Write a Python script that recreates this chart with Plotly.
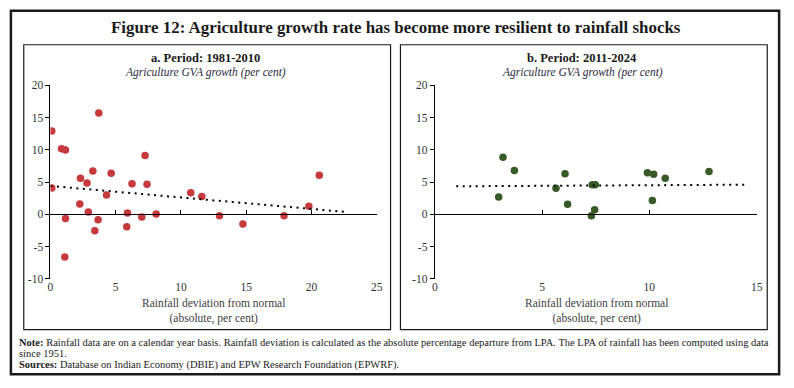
import plotly.graph_objects as go

# ---------------- data ----------------
# Panel a: 1981-2010
rain_a = [0.1, 3.7, 0.85, 1.15, 7.25, 3.25, 4.65, 2.3, 2.8, 6.25, 7.4, 20.6, 0.1, 2.25, 4.3,
          2.9, 1.15, 3.65, 3.4, 1.1, 5.9, 5.85, 7.0, 8.1, 10.75, 11.6, 12.95, 14.75, 17.9, 19.8]
gva_a = [12.9, 15.7, 10.15, 9.95, 9.1, 6.7, 6.35, 5.6, 4.85, 4.75, 4.65, 6.05, 4.1, 1.6, 3.0,
         0.35, -0.65, -0.85, -2.55, -6.6, 0.2, -1.9, -0.4, 0.05, 3.35, 2.75, -0.2, -1.5, -0.2, 1.25]
trend_a_x = [0, 22.5]
trend_a_y = [4.4, 0.4]

# Panel b: 2011-2024
rain_b = [3.18, 3.71, 6.07, 9.91, 10.2, 10.74, 12.78, 2.98, 5.65, 6.19, 7.34, 7.48, 7.3, 7.45, 10.14]
gva_b = [8.85, 6.8, 6.3, 6.45, 6.2, 5.6, 6.65, 2.7, 4.05, 1.55, 4.6, 4.6, -0.2, 0.7, 2.15]
trend_b_x = [1.0, 14.6]
trend_b_y = [4.35, 4.6]

x_ticks_a = [0, 5, 10, 15, 20, 25]
x_ticks_b = [0, 5, 10, 15]
y_ticks = [-10, -5, 0, 5, 10, 15, 20]
y_tick_text = ["-10", "-5", "0", "5", "10", "15", "20"]

title = "Figure 12: Agriculture growth rate has become more resilient to rainfall shocks"
panel_titles = ["a. Period: 1981-2010", "b. Period: 2011-2024"]
y_title = "Agriculture GVA growth (per cent)"
x_title = "Rainfall deviation from normal<br>(absolute, per cent)"
note_lines = [
    "<b>Note:</b> Rainfall data are on a calendar year basis. Rainfall deviation is calculated as the absolute percentage departure from LPA. The LPA of rainfall has been computed using data",
    "since 1951.",
    "<b>Sources:</b> Database on Indian Economy (DBIE) and EPW Research Foundation (EPWRF).",
]

# ---------------- layout helpers ----------------
W, H = 794, 388
def px(x):
    return x / W
def py(y):
    return 1 - y / H

FONT = "Liberation Serif"
RED = "#C6393D"
GREEN = "#385A26"
TXT = "#333333"

dom_a = [px(48), px(378)]
dom_b = [px(436.7), px(762.3)]
dom_y = [py(281.7), py(81.7)]
zero_pos = dom_y[0] + (dom_y[1] - dom_y[0]) * (10 / 30)

fig = go.Figure()

fig.add_trace(go.Scatter(x=rain_a, y=gva_a, mode="markers", xaxis="x", yaxis="y",
                         marker=dict(color=RED, size=7.5), showlegend=False))
fig.add_trace(go.Scatter(x=trend_a_x, y=trend_a_y, mode="lines", xaxis="x3", yaxis="y",
                         line=dict(color="black", width=2, dash="2px,4.5px"), showlegend=False))
fig.add_trace(go.Scatter(x=rain_b, y=gva_b, mode="markers", xaxis="x2", yaxis="y2",
                         marker=dict(color=GREEN, size=7.5), showlegend=False))
fig.add_trace(go.Scatter(x=trend_b_x, y=trend_b_y, mode="lines", xaxis="x4", yaxis="y2",
                         line=dict(color="black", width=2, dash="2px,4.5px"), showlegend=False))

tickfont = dict(family=FONT, size=11.5, color=TXT)

def xaxis_main(dom, rng, ticks, anchor):
    return dict(domain=dom, range=rng, anchor=anchor, tickvals=ticks, showline=False,
                showgrid=False, zeroline=False, ticks="", tickfont=tickfont, fixedrange=True)

def xaxis_zero(dom, rng, ticks, over):
    return dict(domain=dom, range=rng, overlaying=over, anchor="free", position=zero_pos,
                tickvals=ticks, showline=True, linecolor="black", linewidth=1,
                ticks="inside", ticklen=4, tickcolor="black", showticklabels=False,
                showgrid=False, zeroline=False, fixedrange=True)

def yaxis(anchor):
    return dict(domain=dom_y, range=[-10, 20], anchor=anchor, tickvals=y_ticks,
                ticktext=y_tick_text,
                showline=True, linecolor="black", linewidth=1, ticks="outside", ticklen=4,
                tickcolor="black", showgrid=False, zeroline=False, tickfont=tickfont,
                fixedrange=True)

fig.update_layout(
    width=W, height=H,
    autosize=False,
    margin=dict(l=0, r=0, t=0, b=0),
    paper_bgcolor="white", plot_bgcolor="rgba(0,0,0,0)",
    font=dict(family=FONT, color=TXT),
    xaxis=xaxis_main(dom_a, [0, 25], x_ticks_a, "y"),
    xaxis2=xaxis_main(dom_b, [0, 15], x_ticks_b, "y2"),
    xaxis3=xaxis_zero(dom_a, [0, 25], x_ticks_a, "x"),
    xaxis4=xaxis_zero(dom_b, [0, 15], x_ticks_b, "x2"),
    yaxis=yaxis("x"),
    yaxis2=yaxis("x2"),
)

shapes = [
    dict(type="rect", xref="paper", yref="paper", x0=px(8), x1=px(785), y0=py(380), y1=py(5),
         line=dict(color="#1a1a1a", width=2.5)),
    dict(type="rect", xref="paper", yref="paper", x0=px(21), x1=px(392), y0=py(334), y1=py(40),
         line=dict(color="#1a1a1a", width=1.2)),
    dict(type="rect", xref="paper", yref="paper", x0=px(402), x1=px(773), y0=py(334), y1=py(40),
         line=dict(color="#1a1a1a", width=1.2)),
]
fig.update_layout(shapes=shapes)

ann = []
ann.append(dict(text="<b>" + title + "</b>", x=px(397), y=py(22), xref="paper", yref="paper",
                showarrow=False, xanchor="center", yanchor="middle",
                font=dict(family=FONT, size=16.9, color="#1a1a1a")))
for cx, t in zip([205, 586], panel_titles):
    ann.append(dict(text="<b>" + t + "</b>", x=px(cx), y=py(54), xref="paper", yref="paper",
                    showarrow=False, xanchor="center", yanchor="middle",
                    font=dict(family=FONT, size=12.5, color="#1a1a1a")))
    ann.append(dict(text="<i>" + y_title + "</i>", x=px(cx), y=py(69), xref="paper", yref="paper",
                    showarrow=False, xanchor="center", yanchor="middle",
                    font=dict(family=FONT, size=11.5, color="#2a2a40")))
for cx in [213, 600]:
    ann.append(dict(text=x_title, x=px(cx), y=py(315), xref="paper", yref="paper",
                    showarrow=False, xanchor="center", yanchor="middle", align="center",
                    font=dict(family=FONT, size=11.5, color="#404040")))
for yy, t in zip([347, 359, 370], note_lines):
    ann.append(dict(text=t, x=px(14), y=py(yy), xref="paper", yref="paper",
                    showarrow=False, xanchor="left", yanchor="middle", align="left",
                    font=dict(family=FONT, size=10.5, color="#1a1a1a")))
fig.update_layout(annotations=ann)

fig.write_html(
    "out.html",
    config={"responsive": False, "displayModeBar": False},
    post_script="document.body.style.margin='0';document.body.style.padding='0';document.body.style.overflow='hidden';",
)
